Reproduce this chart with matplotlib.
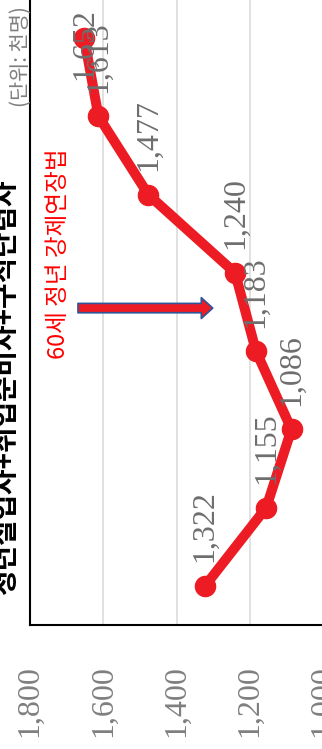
import matplotlib
matplotlib.use("Agg")
import matplotlib.pyplot as plt

# 청년실업자+취업준비자+구직단념자 (천명), 시계열 순서
values = [1322, 1155, 1086, 1183, 1240, 1477, 1613, 1652]
value_ticks = [1000, 1200, 1400, 1600, 1800]
tick_labels = ["1,000", "1,200", "1,400", "1,600", "1,800"]

title = "청년실업자+취업준비자+구직단념자"
unit = "(단위: 천명)"
note = "60세 정년 강제연장법"

RED = "#ED1C24"
GRAY = "#7f7f7f"
KR = ["Noto Sans CJK KR", "DejaVu Sans"]

fig = plt.figure(figsize=(3.22, 7.49), dpi=100)
ax = fig.add_axes([30 / 322, 124 / 749, 293 / 322, 626 / 749])

pos = list(range(len(values)))
ax.plot(values, pos, color=RED, linewidth=7.2, marker="o", markersize=14.5,
        solid_capstyle="round", zorder=3)

# data labels (rotated with the chart)
for i, v in enumerate(values):
    txt = f"{v:,}"
    if i == len(values) - 1:
        ax.annotate(txt, (v, i), xytext=(0, -4), textcoords="offset points",
                    rotation=90, ha="center", va="center", fontsize=23,
                    family="Liberation Serif", color="#6e6e6e", zorder=4)
    else:
        ax.annotate(txt, (v, i), xytext=(0, 17), textcoords="offset points",
                    rotation=90, ha="center", va="bottom", fontsize=23,
                    family="Liberation Serif", color="#6e6e6e", zorder=4)

# 정년연장법 시점 화살표
ax.annotate("", xy=(1301, 3.55), xytext=(1669, 3.55),
            arrowprops=dict(arrowstyle="simple,head_length=0.55,head_width=1.0,tail_width=0.45",
                            mutation_scale=15, fc=RED, ec="#2F5597", lw=1.2,
                            shrinkA=0, shrinkB=0), zorder=5)
ax.text(1721, 4.24, note, rotation=90, ha="center", va="center",
        fontsize=17, family=KR, color="#FF0000")

ax.set_xlim(1800, 1000)
ax.set_ylim(-0.5, len(values) - 0.5)
ax.set_xticks(value_ticks)
ax.set_xticklabels(tick_labels, rotation=90, family="Liberation Serif",
                   fontsize=23, color=GRAY)
ax.tick_params(axis="x", length=0, pad=29)
ax.set_yticks([])
ax.grid(axis="x", color="#d9d9d9", linewidth=1.1)
ax.set_axisbelow(True)

for side in ["left", "bottom"]:
    ax.spines[side].set_color("black")
    ax.spines[side].set_linewidth(1.5)
ax.spines["top"].set_color("#d9d9d9")
ax.spines["top"].set_linewidth(1.1)
ax.spines["right"].set_visible(False)

fig.text(6 / 322, 1 - 387 / 749, title, rotation=90, ha="center", va="center",
         fontsize=20, fontweight="bold", family=KR, color="black")
fig.text(21 / 322, 1 - 57 / 749, unit, rotation=90, ha="center", va="center",
         fontsize=15, family=KR, color=GRAY)

fig.savefig("out.png", dpi=100)
